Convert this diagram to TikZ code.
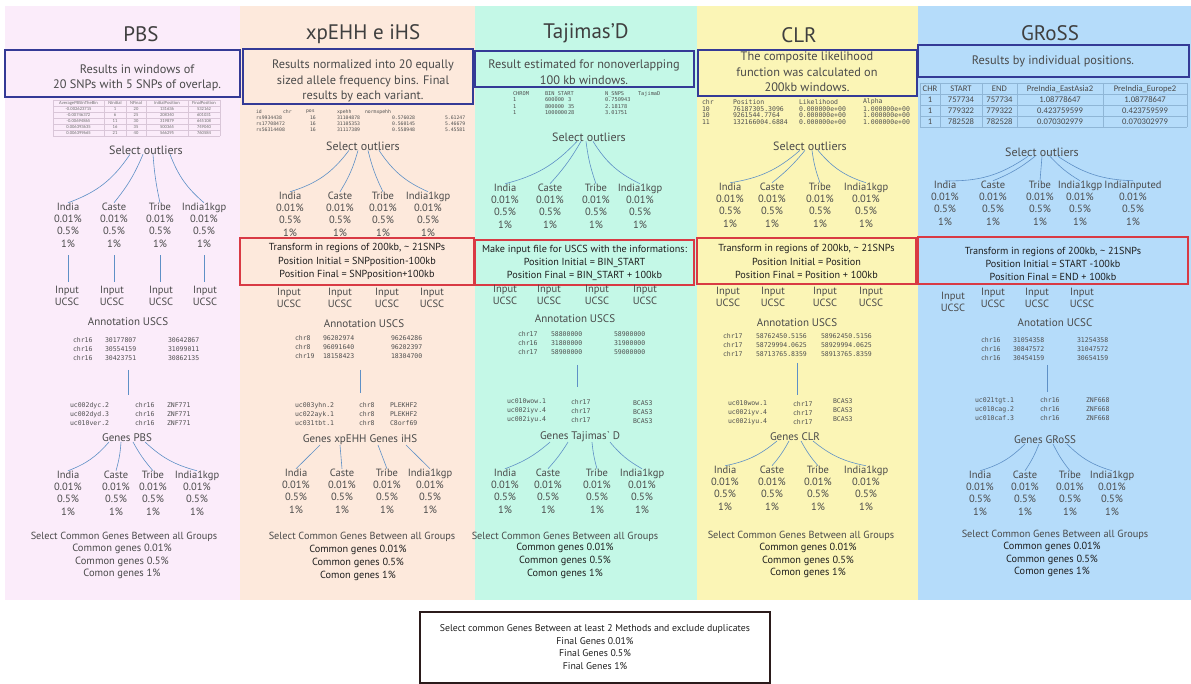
\documentclass[tikz,border=0pt]{standalone}
\usepackage{fontspec}
\setmainfont{PT Sans}
\newfontfamily\tabfont{Carlito}
\newfontfamily\codefont{DejaVu Sans Mono}
\usetikzlibrary{calc}

\definecolor{pbsbg}{HTML}{FBECFA}
\definecolor{xpbg}{HTML}{FDE9DC}
\definecolor{tajbg}{HTML}{C4F8E7}
\definecolor{clrbg}{HTML}{FBF5B6}
\definecolor{grossbg}{HTML}{B5DCFA}
\definecolor{boxblue}{HTML}{343A96}
\definecolor{boxred}{HTML}{D93A44}
\definecolor{linkblue}{HTML}{5E90C6}
\definecolor{txtgray}{HTML}{4A4A4A}
\definecolor{txtdark}{HTML}{1E1E1E}
\definecolor{codegray}{HTML}{505050}
\definecolor{gridpink}{HTML}{D9C6D8}
\definecolor{gridblue}{HTML}{8FB6D6}
\definecolor{finalframe}{HTML}{2B1B1B}

\newcommand{\grpvals}{0.01\%\\0.5\%\\1\%}

\tikzset{
  every node/.style={inner sep=0pt,outer sep=0pt},
  ttl/.style={font=\fontsize{21}{24}\selectfont,text=txtgray!85!black},
  descbox/.style={draw=boxblue,line width=1.3pt},
  desctext/.style={font=\fontsize{12.3}{15.6}\selectfont,text=txtgray,align=center},
  xformbox/.style={draw=boxred,line width=1.3pt},
  xformtext/.style={font=\fontsize{10.2}{13.4}\selectfont,text=txtdark,align=center},
  lbl/.style={font=\fontsize{12}{14}\selectfont,text=txtgray},
  sublbl/.style={font=\fontsize{11}{13}\selectfont,text=txtgray},
  grp/.style={font=\fontsize{10.5}{12.3}\selectfont,text=txtgray,align=center},
  inp/.style={font=\fontsize{10.5}{12.4}\selectfont,text=txtgray,align=center},
  code/.style={font=\codefont\fontsize{6.5}{9}\selectfont,text=codegray,align=left,anchor=west},
  tinycode/.style={font=\codefont\fontsize{4.8}{6}\selectfont,text=codegray,align=left,anchor=west},
  smallcode/.style={font=\codefont\fontsize{5.3}{6.5}\selectfont,text=codegray,align=left,anchor=west},
  midcode/.style={font=\codefont\fontsize{6.5}{6.6}\selectfont,text=codegray,align=left,anchor=west},
  tinytab/.style={font=\tabfont\fontsize{4.6}{6}\selectfont,text=txtgray!80,align=center},
  grosstab/.style={font=\tabfont\fontsize{8.6}{11}\selectfont,text=txtgray,align=center},
  link/.style={draw=linkblue,line width=0.6pt},
  sel/.style={font=\fontsize{10.3}{12.5}\selectfont,text=txtgray},
  common/.style={font=\fontsize{10.3}{12.7}\selectfont,text=txtdark,align=center},
  finaltext/.style={font=\fontsize{9.8}{12.7}\selectfont,text=txtdark,align=center},
}

\begin{document}
\begin{tikzpicture}[x=1pt,y=-1pt]
\useasboundingbox (0,0) rectangle (1191,684);
\fill[white] (0,0) rectangle (1191,684);

% method panels
\fill[pbsbg]   (5,6)   rectangle (240,600);
\fill[xpbg]    (240,6) rectangle (475,600);
\fill[tajbg]   (475,6) rectangle (697,600);
\fill[clrbg]   (697,6) rectangle (918,600);
\fill[grossbg] (918,6) rectangle (1191,600);

% ================= PBS =================
\node[ttl] (pbs-t) at (141,34) {PBS};
\node[descbox,minimum width=235pt,minimum height=47pt] (pbs-d) at (122.5,73.5) {};
\node[desctext] (pbs-dt) at (137,78) {Results in windows of\\20 SNPs with 5 SNPs of overlap.};
\foreach \yy in {100,106,112,118,124,130,136} \draw[gridpink,line width=0.3pt] (53,\yy) -- (220,\yy);
\foreach \xx in {53,104,126,146,188,220} \draw[gridpink,line width=0.3pt] (\xx,100) -- (\xx,136);
\node[tinytab] (pbs-c1) at (78.5,118) {AveragePBSInTheBin\\-0.002623715\\-0.00746372\\-0.00694865\\0.006393635\\0.006399665};
\node[tinytab] (pbs-c2) at (115,118) {NInitial\\1\\6\\11\\16\\21};
\node[tinytab] (pbs-c3) at (136,118) {NFinal\\20\\25\\30\\35\\40};
\node[tinytab] (pbs-c4) at (167,118) {InitialPosition\\131636\\208340\\319879\\500365\\566295};
\node[tinytab] (pbs-c5) at (204,118) {FinalPosition\\532162\\601031\\645108\\749040\\760584};
\node[lbl] (pbs-so) at (146,150) {Select outliers};
\foreach \n/\x/\t in {1/68/India,2/114/Caste,3/160/Tribe,4/204/India1kgp}
  \node[grp] (pbs-o\n) at (\x,225) {\t\\\grpvals};
\foreach \n/\s/\b in {1/-16/-18,2/-3/-8,3/7/4,4/24/14}
  \draw[link] ([xshift=\s pt]pbs-so.south) to[bend right=\b] (pbs-o\n.north);
\foreach \n/\x in {1/67,2/112,3/161,4/205}
  \node[inp] (pbs-in\n) at (\x,296) {Input\\UCSC};
\foreach \n in {1,2,3,4}
  \draw[link,shorten <=8pt,shorten >=4pt] (pbs-o\n.south) -- (pbs-o\n.south |- pbs-in\n.north);
\node[sublbl] (pbs-an) at (128,322) {Annotation USCS};
\node[code] (pbs-a1) at (73,349) {chr16\\chr16\\chr16};
\node[code] (pbs-a2) at (105,349) {30177807\\30554159\\30423751};
\node[code] (pbs-a3) at (168,349) {30642867\\31099011\\30862135};
\coordinate (pbs-v1) at (128,370);
\coordinate (pbs-v2) at (128,395);
\draw[link] (pbs-v1) -- (pbs-v2);
\node[code] (pbs-g1) at (70,414) {uc002dyc.2\\uc002dyd.3\\uc010ver.2};
\node[code] (pbs-g2) at (135,414) {chr16\\chr16\\chr16};
\node[code] (pbs-g3) at (167,414) {ZNF771\\ZNF771\\ZNF771};
\node[sublbl] (pbs-gl) at (127,438) {Genes PBS};
\foreach \n/\x/\t in {1/68/India,2/116/Caste,3/153/Tribe,4/197/India1kgp}
  \node[grp] (pbs-h\n) at (\x,493) {\t\\\grpvals};
\foreach \n/\s/\b in {1/-18/-14,2/-6/-6,3/6/6,4/18/14}
  \draw[link] ([xshift=\s pt]pbs-gl.south) to[bend right=\b] (pbs-h\n.north);
\node[sel] (pbs-sc) at (124,537) {Select Common Genes Between all Groups};
\node[grp] (pbs-cg) at (122,561.5) {Common genes 0.01\%\\Common genes 0.5\%\\Comon genes 1\%};

% ================= xpEHH e iHS =================
\node[ttl] (xp-t) at (363,34) {xpEHH e iHS};
\node[descbox,minimum width=230pt,minimum height=55pt] (xp-d) at (358,76.5) {};
\node[desctext] (xp-dt) at (363,81) {Results normalized into 20 equally\\sized allele frequency bins. Final\\results by each variant.};
\foreach \n/\x/\t in {1/256/id,2/283/chr,3/306/pos,4/337/xpehh,5/365/normxpehh}
  \node[tinycode] (xp-hd\n) at (\x,112) {\t};
\node[tinycode] (xp-r1) at (256,124) {rs9934438\\rs17708472\\rs56314408};
\node[tinycode] (xp-r2) at (310,124) {16\\16\\16};
\node[tinycode] (xp-r3) at (337,124) {31104878\\31105353\\31117389};
\node[tinycode] (xp-r4) at (392,124) {0.576028\\0.560145\\0.558948};
\node[tinycode] (xp-r5) at (445,124) {5.61247\\5.46679\\5.45581};
\node[lbl] (xp-so) at (363,146) {Select outliers};
\foreach \n/\x/\t in {1/290/India,2/340/Caste,3/383/Tribe,4/428/India1kgp}
  \node[grp] (xp-o\n) at (\x,214) {\t\\\grpvals};
\foreach \n/\s/\b in {1/-14/-18,2/-5/-8,3/5/6,4/16/16}
  \draw[link] ([xshift=\s pt]xp-so.south) to[bend right=\b] (xp-o\n.north);
\node[xformbox,minimum width=234pt,minimum height=47pt] (xp-x) at (357,261.5) {};
\node[xformtext] (xp-xt) at (357,261.5) {Transform in regions of 200kb, \textasciitilde{} 21SNPs\\Position Initial = SNPposition-100kb\\Position Final = SNPposition+100kb};
\foreach \n/\x in {1/289,2/340,3/387,4/432}
  \node[inp] (xp-in\n) at (\x,298) {Input\\UCSC};
\node[sublbl] (xp-an) at (364,324) {Annotation USCS};
\node[code] (xp-a1) at (295,347.5) {chr8\\chr8\\chr19};
\node[code] (xp-a2) at (323,347.5) {96202974\\96091640\\18158423};
\node[code] (xp-a3) at (391,347.5) {96264286\\96202397\\18304700};
\coordinate (xp-v1) at (360,370);
\coordinate (xp-v2) at (360,393);
\draw[link] (xp-v1) -- (xp-v2);
\node[code] (xp-g1) at (295,414) {uc003yhn.2\\uc022ayk.1\\uc031tbt.1};
\node[code] (xp-g2) at (359,414) {chr8\\chr8\\chr8};
\node[code] (xp-g3) at (390,414) {PLEKHF2\\PLEKHF2\\C8orf69};
\node[sublbl] (xp-gl) at (360,440) {Genes xpEHH Genes iHS};
\foreach \n/\x/\t in {1/296/India,2/342/Caste,3/387/Tribe,4/430/India1kgp}
  \node[grp] (xp-h\n) at (\x,491) {\t\\\grpvals};
\foreach \n/\s/\b in {1/-40/0,2/-20/0,3/18/0,4/46/0}
  \draw[link] ([xshift=\s pt]xp-gl.south) to[bend right=\b] (xp-h\n.north);
\node[sel] (xp-sc) at (362,537) {Select Common Genes Between all Groups};
\node[common] (xp-cg) at (358,563) {Common genes 0.01\%\\Common genes 0.5\%\\Comon genes 1\%};

% ================= Tajima's D =================
\node[ttl] (tj-t) at (586,33) {Tajimas’D};
\node[descbox,minimum width=219pt,minimum height=36pt] (tj-d) at (584.5,69) {};
\node[desctext] (tj-dt) at (584,72.5) {Result estimated for nonoverlapping\\100 kb windows.};
\foreach \n/\x/\t in {1/513/CHROM,2/545/BIN\_START,3/605/N\_SNPS,4/638/TajimaD}
  \node[smallcode] (tj-hd\n) at (\x,94) {\t};
\node[smallcode] (tj-r1) at (513,106.5) {1\\1\\1};
\node[smallcode] (tj-r2) at (545,106.5) {600000\\800000\\1000000};
\node[smallcode] (tj-r3) at (568,106.5) {3\\35\\28};
\node[smallcode] (tj-r4) at (605,106.5) {0.750943\\2.18178\\3.01751};
\node[lbl] (tj-so) at (589,137) {Select outliers};
\foreach \n/\x/\t in {1/505/India,2/550/Caste,3/596/Tribe,4/640/India1kgp}
  \node[grp] (tj-o\n) at (\x,206) {\t\\\grpvals};
\foreach \n/\s/\b in {1/-12/-16,2/-8/-6,3/-3/6,4/4/16}
  \draw[link] ([xshift=\s pt]tj-so.south) to[bend right=\b] (tj-o\n.north);
\node[xformbox,minimum width=219pt,minimum height=45pt] (tj-x) at (584.5,262.5) {};
\node[xformtext] (tj-xt) at (584.5,263) {Make input file for USCS with the informations:\\Position Initial = BIN\_START\\Position Final = BIN\_START + 100kb};
\foreach \n/\x in {1/505,2/549,3/597,4/645}
  \node[inp] (tj-in\n) at (\x,295) {Input\\UCSC};
\node[sublbl] (tj-an) at (575,319) {Annotation USCS};
\node[code] (tj-a1) at (518,343) {chr17\\chr16\\chr17};
\node[code] (tj-a2) at (551,343) {58800000\\31800000\\58900000};
\node[code] (tj-a3) at (614,343) {58900000\\31900000\\59000000};
\coordinate (tj-v1) at (577,365);
\coordinate (tj-v2) at (577,387);
\draw[link] (tj-v1) -- (tj-v2);
\node[code] (tj-g1) at (507,411) {uc010wow.1\\uc002iyv.4\\uc002iyu.4};
\node[code] (tj-g2) at (571,411) {chr17\\chr17\\chr17};
\node[code] (tj-g3) at (633,412.5) {BCAS3\\BCAS3\\BCAS3};
\node[sublbl] (tj-gl) at (580,437) {Genes Tajimas\textasciigrave{} D};
\foreach \n/\x/\t in {1/505/India,2/548/Caste,3/597/Tribe,4/642/India1kgp}
  \node[grp] (tj-h\n) at (\x,491) {\t\\\grpvals};
\foreach \n/\s/\b in {1/-30/-10,2/-12/-5,3/12/5,4/30/10}
  \draw[link] ([xshift=\s pt]tj-gl.south) to[bend right=\b] (tj-h\n.north);
\node[sel] (tj-sc) at (565,537) {Select Common Genes Between all Groups};
\node[common] (tj-cg) at (565,561) {Common genes 0.01\%\\Common genes 0.5\%\\Comon genes 1\%};

% ================= CLR =================
\node[ttl] (cl-t) at (799,35) {CLR};
\node[descbox,minimum width=219pt,minimum height=46pt] (cl-d) at (807.5,73) {};
\node[desctext] (cl-dt) at (807,72) {The composite likelihood\\function was calculated on\\200kb windows.};
\foreach \n/\x/\t in {1/702/chr,2/733/Position,3/799/Likelihood,4/863/Alpha}
  \node[midcode] (cl-hd\n) at (\x,102) {\t};
\node[midcode] (cl-r1) at (702,115.5) {10\\10\\11};
\node[midcode] (cl-r2) at (733,115.5) {76187305.3096\\9261544.7764\\132166004.6884};
\node[midcode] (cl-r3) at (799,115.5) {0.000000e+00\\0.000000e+00\\0.000000e+00};
\node[midcode] (cl-r4) at (863,115.5) {1.000000e+00\\1.000000e+00\\1.000000e+00};
\node[lbl] (cl-so) at (810,146) {Select outliers};
\foreach \n/\x/\t in {1/730/India,2/772/Caste,3/820/Tribe,4/866/India1kgp}
  \node[grp] (cl-o\n) at (\x,205) {\t\\\grpvals};
\foreach \n/\s/\b in {1/-10/-16,2/-5/-6,3/2/6,4/8/16}
  \draw[link] ([xshift=\s pt]cl-so.south) to[bend right=\b] (cl-o\n.north);
\node[xformbox,minimum width=219pt,minimum height=46pt] (cl-x) at (806.5,261) {};
\node[xformtext] (cl-xt) at (806.5,261.5) {Transform in regions of 200kb, \textasciitilde{} 21SNPs\\Position Initial = Position\\Position Final = Position + 100kb};
\foreach \n/\x in {1/728,2/773,3/825,4/871}
  \node[inp] (cl-in\n) at (\x,297) {Input\\UCSC};
\node[sublbl] (cl-an) at (797,323) {Annotation USCS};
\node[code] (cl-a1) at (723,345) {chr17\\chr17\\chr17};
\node[code] (cl-a2) at (756,345) {58762450.5156\\58729994.0625\\58713765.8359};
\node[code] (cl-a3) at (821,345) {58962450.5156\\58929994.0625\\58913765.8359};
\coordinate (cl-v1) at (797,363);
\coordinate (cl-v2) at (797,395);
\draw[link] (cl-v1) -- (cl-v2);
\node[code] (cl-g1) at (728,413) {uc010wow.1\\uc002iyv.4\\uc002iyu.4};
\node[code] (cl-g2) at (793,413) {chr17\\chr17\\chr17};
\node[code] (cl-g3) at (833,410) {BCAS3\\BCAS3\\BCAS3};
\node[sublbl] (cl-gl) at (795,437) {Genes CLR};
\foreach \n/\x/\t in {1/725/India,2/772/Caste,3/818/Tribe,4/866/India1kgp}
  \node[grp] (cl-h\n) at (\x,488) {\t\\\grpvals};
\foreach \n/\s/\b in {1/-18/-14,2/-6/-6,3/6/6,4/18/14}
  \draw[link] ([xshift=\s pt]cl-gl.south) to[bend right=\b] (cl-h\n.north);
\node[sel] (cl-sc) at (801,536) {Select Common Genes Between all Groups};
\node[common] (cl-cg) at (808,560.5) {Common genes 0.01\%\\Common genes 0.5\%\\Comon genes 1\%};

% ================= GRoSS =================
\node[ttl] (gr-t) at (1050,33) {GRoSS};
\node[descbox,minimum width=271pt,minimum height=32pt] (gr-d) at (1053.5,61) {};
\node[desctext] (gr-dt) at (1053,61) {Results by individual positions.};
\foreach \yy in {83,94,105,116,127} \draw[gridblue,line width=0.4pt] (920,\yy) -- (1187,\yy);
\foreach \xx in {920,940,982,1017,1103,1187} \draw[gridblue,line width=0.4pt] (\xx,83) -- (\xx,127);
\node[grosstab] (gr-c1) at (930,105) {CHR\\1\\1\\1};
\node[grosstab] (gr-c2) at (961,105) {START\\757734\\779322\\782528};
\node[grosstab] (gr-c3) at (999.5,105) {END\\757734\\779322\\782528};
\node[grosstab] (gr-c4) at (1060,105) {PreIndia\_EastAsia2\\1.08778647\\0.423759599\\0.070302979};
\node[grosstab] (gr-c5) at (1145,105) {PreIndia\_Europe2\\1.08778647\\0.423759599\\0.070302979};
\node[lbl] (gr-so) at (1042,152) {Select outliers};
\foreach \n/\x/\t in {1/945/India,2/993/Caste,3/1040/Tribe,4/1080/India1kgp,5/1133/IndiaInputed}
  \node[grp] (gr-o\n) at (\x,203) {\t\\\grpvals};
\foreach \n/\s/\b in {1/-14/-18,2/-7/-8,3/0/0,4/8/8,5/16/16}
  \draw[link] ([xshift=\s pt]gr-so.south) to[bend right=\b] (gr-o\n.north);
\node[xformbox,minimum width=270pt,minimum height=47pt] (gr-x) at (1053,260.5) {};
\node[xformtext] (gr-xt) at (1053,264) {Transform in regions of 200kb, \textasciitilde{} 21SNPs\\Position Initial = START -100kb\\Position Final = END + 100kb};
\foreach \n/\x/\y in {1/953/302,2/993/298,3/1037/298,4/1082/298}
  \node[inp] (gr-in\n) at (\x,\y) {Input\\UCSC};
\node[sublbl] (gr-an) at (1055,323) {Anotation UCSC};
\node[code] (gr-a1) at (981,349) {chr16\\chr16\\chr16};
\node[code] (gr-a2) at (1013,349) {31054358\\30847572\\30454159};
\node[code] (gr-a3) at (1077,349) {31254358\\31047572\\30654159};
\coordinate (gr-v1) at (1047,365);
\coordinate (gr-v2) at (1047,392);
\draw[link] (gr-v1) -- (gr-v2);
\node[code] (gr-g1) at (975,409) {uc021tgt.1\\uc010cag.2\\uc010caf.3};
\node[code] (gr-g2) at (1040,409) {chr16\\chr16\\chr16};
\node[code] (gr-g3) at (1086,409) {ZNF668\\ZNF668\\ZNF668};
\node[sublbl] (gr-gl) at (1045,440) {Genes GRoSS};
\foreach \n/\x/\t in {1/980/India,2/1025/Caste,3/1070/Tribe,4/1112/India1kgp}
  \node[grp] (gr-h\n) at (\x,493) {\t\\\grpvals};
\foreach \n/\s/\b in {1/-20/-14,2/-6/-6,3/8/6,4/22/14}
  \draw[link] ([xshift=\s pt]gr-gl.south) to[bend right=\b] (gr-h\n.north);
\node[sel] (gr-sc) at (1055,535) {Select Common Genes Between all Groups};
\node[common] (gr-cg) at (1052,559.5) {Common genes 0.01\%\\Common genes 0.5\%\\Comon genes 1\%};

% ================= final selection =================
\node[draw=finalframe,line width=1.6pt,minimum width=350pt,minimum height=71pt] (fin) at (595,647.5) {};
\node[finaltext] (fin-t) at (595,647) {Select common Genes Between at least 2 Methods and exclude duplicates\\Final Genes 0.01\%\\Final Genes 0.5\%\\Final Genes 1\%};
\end{tikzpicture}
\end{document}
